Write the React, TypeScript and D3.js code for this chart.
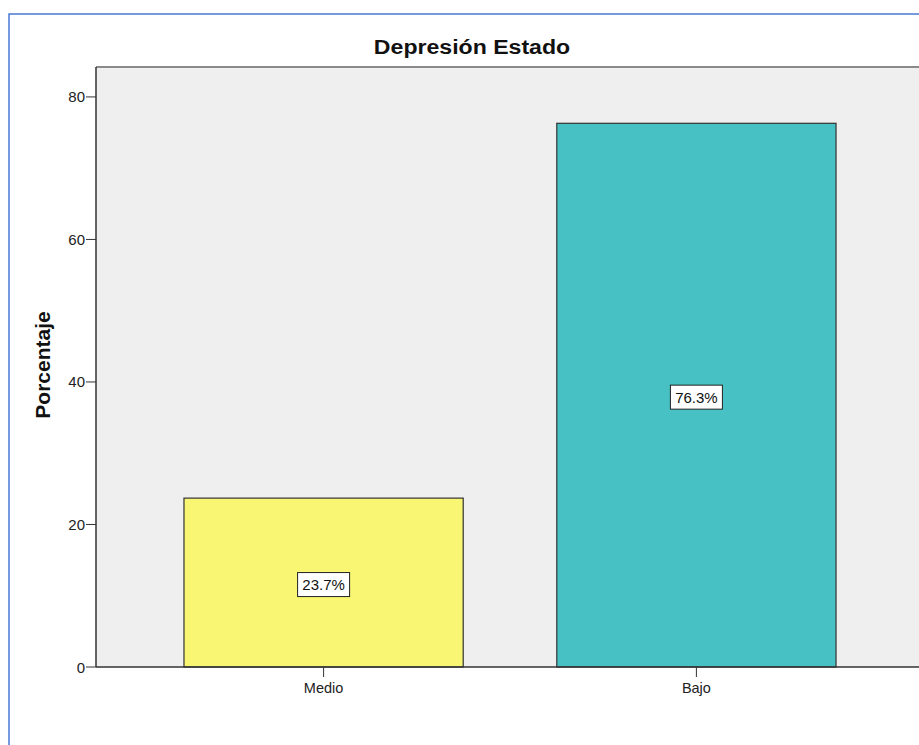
import React from "react";
import * as d3 from "d3";

const categories = ["Medio", "Bajo"];
const values = [23.7, 76.3];
const valueLabels = ["23.7%", "76.3%"];
const colors = ["#f8f672", "#48c1c4"];
const yTicks = [0, 20, 40, 60, 80];
const title = "Depresión Estado";
const yTitle = "Porcentaje";

const W = 919;
const H = 745;
const plot = { left: 96, top: 67, right: 924, bottom: 667 };

export default function App() {
  const y = d3.scaleLinear().domain([0, 84.2]).range([plot.bottom, plot.top]);
  const x = d3
    .scaleBand<string>()
    .domain(categories)
    .range([plot.left, plot.right])
    .paddingInner(0.251)
    .paddingOuter(0.236);
  const font = "Arial, 'Liberation Sans', sans-serif";
  return (
    <div style={{ position: "absolute", left: 0, top: 0 }}>
      <svg width={W} height={H} style={{ display: "block", background: "#fff" }}>
        <rect x={9} y={14} width={1000} height={1000} fill="#fff" stroke="#4a7ad6" strokeWidth={1.5} />
        <rect x={plot.left} y={plot.top} width={plot.right - plot.left} height={plot.bottom - plot.top} fill="#efefef" />
        <line x1={plot.left} x2={plot.right} y1={plot.top} y2={plot.top} stroke="#8a8a8a" strokeWidth={2} />
        <text
          transform="translate(472,54) scale(1.1,1)"
          textAnchor="middle"
          fontFamily={font}
          fontWeight="bold"
          fontSize={21}
          fill="#111"
        >
          {title}
        </text>
        {categories.map((c, i) => {
          const bx = x(c)!;
          const by = y(values[i]);
          const cx = bx + x.bandwidth() / 2;
          const cy = (by + y(0)) / 2 + 2;
          return (
            <g key={c}>
              <rect x={bx} y={by} width={x.bandwidth()} height={y(0) - by} fill={colors[i]} stroke="#333" strokeWidth={1.2} />
              <rect x={cx - 26} y={cy - 12} width={52} height={24} fill="#fff" stroke="#222" strokeWidth={1} />
              <text x={cx} y={cy + 5.5} textAnchor="middle" fontFamily={font} fontSize={15} fill="#111">
                {valueLabels[i]}
              </text>
              <line x1={cx} x2={cx} y1={plot.bottom} y2={plot.bottom + 10} stroke="#333" strokeWidth={1} />
              <text x={cx} y={plot.bottom + 26} textAnchor="middle" fontFamily={font} fontSize={14.5} fill="#222">
                {c}
              </text>
            </g>
          );
        })}
        {yTicks.map((t) => (
          <g key={t}>
            <line x1={plot.left - 10} x2={plot.left} y1={y(t)} y2={y(t)} stroke="#333" strokeWidth={1} />
            <text x={plot.left - 11} y={y(t) + 5.5} textAnchor="end" fontFamily={font} fontSize={15} fill="#222">
              {t}
            </text>
          </g>
        ))}
        <line x1={plot.left} x2={plot.left} y1={plot.top} y2={plot.bottom} stroke="#333" strokeWidth={1.5} />
        <line x1={plot.left} x2={plot.right} y1={plot.bottom} y2={plot.bottom} stroke="#333" strokeWidth={1.5} />
        <text
          transform={`translate(50,${(plot.top + plot.bottom) / 2 - 2}) rotate(-90)`}
          textAnchor="middle"
          fontFamily={font}
          fontWeight="bold"
          fontSize={21}
          fill="#111"
        >
          {yTitle}
        </text>
      </svg>
    </div>
  );
}
